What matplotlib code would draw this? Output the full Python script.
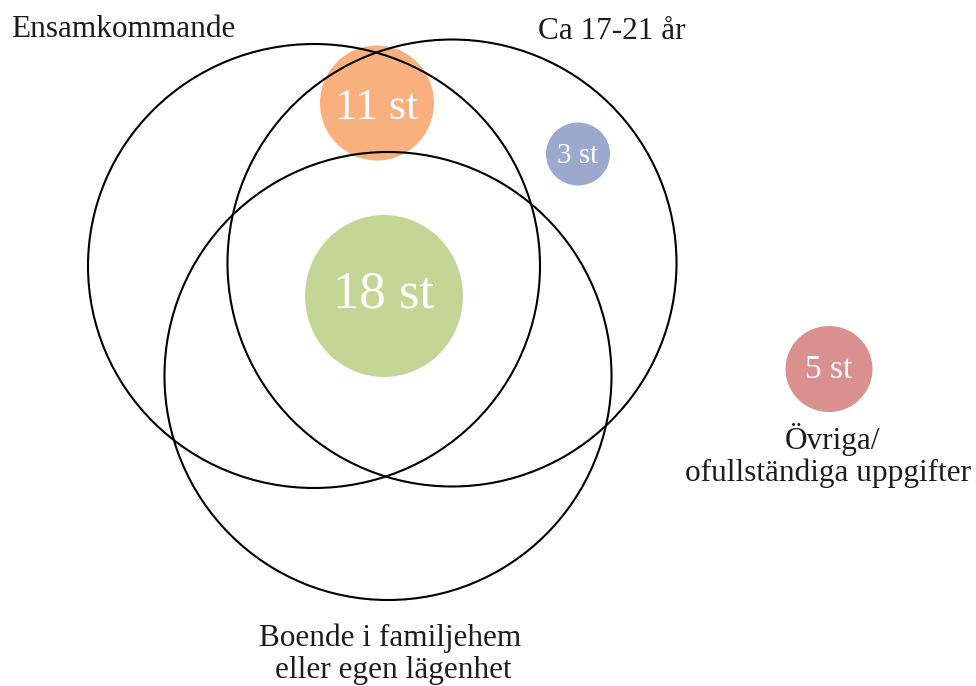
import matplotlib.pyplot as plt
from matplotlib.patches import Ellipse

# Mängder (Venn-cirklar) och antal
set_labels = ["Ensamkommande", "Ca 17-21 år", "Boende i familjehem", "eller egen lägenhet"]
count_labels = ["11 st", "3 st", "18 st", "5 st"]
counts = [11, 3, 18, 5]
other_label = ["Övriga/", "ofullständiga uppgifter"]

bubble_colors = ["#F8B07F", "#9CA9CE", "#C4D596", "#D9908E"]

fig = plt.figure(figsize=(9.76, 6.86), dpi=100)
ax = fig.add_axes([0, 0, 1, 1])
ax.set_xlim(0, 976)
ax.set_ylim(686, 0)
ax.set_aspect("equal")
ax.axis("off")

serif = ["Liberation Serif", "DejaVu Serif"]
txt = "#1c1c1c"

# stora cirklar
circles = [(314, 266, 452, 444), (452, 263, 449, 447), (388, 376, 447, 448)]
for cx, cy, w, h in circles:
    ax.add_patch(Ellipse((cx, cy), w, h, fill=False, ec="black", lw=1.5, zorder=3))

# bubblor (storlek efter antal)
bubbles = [(377, 103, 114, 115), (578, 154, 64, 63), (384, 296, 158, 162), (829, 369, 87, 86)]
baselines = [119, 163, 307, 378]
fsizes = [32, 21, 38, 24]
for (cx, cy, w, h), c, lab, fs, by in zip(bubbles, bubble_colors, count_labels, fsizes, baselines):
    ax.add_patch(Ellipse((cx, cy), w, h, color=c, ec="none", zorder=2))
    ax.text(cx, by, lab, color="white", fontsize=fs, ha="center", va="baseline",
            family=serif, zorder=4)

fs = 22.5
ax.text(11, 37, set_labels[0], fontsize=fs, ha="left", va="baseline", family=serif, color=txt)
ax.text(612, 39, set_labels[1], fontsize=fs, ha="center", va="baseline", family=serif, color=txt)
ax.text(390, 646, set_labels[2], fontsize=fs, ha="center", va="baseline", family=serif, color=txt)
ax.text(393, 678, set_labels[3], fontsize=fs, ha="center", va="baseline", family=serif, color=txt)
ax.text(832, 449, other_label[0], fontsize=fs, ha="center", va="baseline", family=serif, color=txt)
ax.text(828, 481, other_label[1], fontsize=fs, ha="center", va="baseline", family=serif, color=txt)

plt.savefig("out.png", dpi=100)
